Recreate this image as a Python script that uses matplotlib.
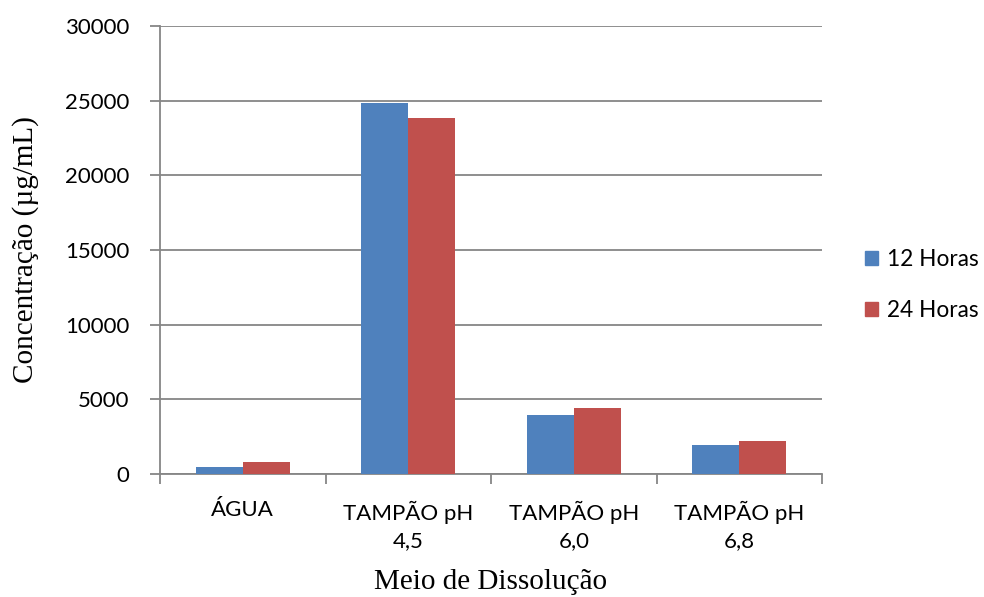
import matplotlib
matplotlib.use("Agg")
import matplotlib.pyplot as plt
import numpy as np
from matplotlib.patches import Patch

categories = ["ÁGUA", "TAMPÃO pH\n4,5", "TAMPÃO pH\n6,0", "TAMPÃO pH\n6,8"]
series_names = ["12 Horas", "24 Horas"]
horas_12 = [450, 24850, 3930, 1940]
horas_24 = [780, 23850, 4420, 2210]
y_ticks = [0, 5000, 10000, 15000, 20000, 25000, 30000]

colors = ["#4F81BD", "#C0504D"]
grid_color = "#868686"
tick_font = "Lato"
label_font = "Liberation Serif"
tick_size = 16

fig = plt.figure(figsize=(9.84, 5.97), dpi=100)
ax = fig.add_axes([160/984, 1 - 474/597, (822-160)/984, (474-26)/597])

x = np.arange(len(categories))
width = 0.284
ax.bar(x - width/2, horas_12, width, color=colors[0], label=series_names[0], zorder=3)
ax.bar(x + width/2, horas_24, width, color=colors[1], label=series_names[1], zorder=3)

ax.set_xlim(-0.5, len(categories) - 0.5)
ax.set_ylim(0, 30000)
ax.set_yticks(y_ticks)
ax.set_yticklabels([str(v) for v in y_ticks], fontfamily=tick_font, fontsize=tick_size)
ax.yaxis.grid(True, color=grid_color, linewidth=1.3, zorder=0)
ax.set_axisbelow(True)

# category labels at centres, tick marks at category boundaries
ax.set_xticks(x)
ax.set_xticklabels(categories, fontfamily=tick_font, fontsize=tick_size, linespacing=1.45)
ax.tick_params(axis="x", which="major", length=0, pad=19)
ax.set_xticks(np.arange(-0.5, len(categories)), minor=True)
ax.tick_params(axis="x", which="minor", length=7, width=1.3, color=grid_color, direction="out")
ax.tick_params(axis="y", length=7, width=1.3, color=grid_color, direction="out", pad=15)

for side in ["top", "right"]:
    ax.spines[side].set_visible(False)
for side in ["left", "bottom"]:
    ax.spines[side].set_color(grid_color)
    ax.spines[side].set_linewidth(1.3)

ax.set_ylabel("Concentração (µg/mL)", fontfamily=label_font, fontsize=21, labelpad=19)
ax.set_xlabel("Meio de Dissolução", fontfamily=label_font, fontsize=21, labelpad=13)

handles = [Patch(facecolor=c, edgecolor=c) for c in colors]
fig.legend(handles, series_names, loc="center left", bbox_to_anchor=(845/984, 1 - 285/597),
           frameon=False, prop={"family": tick_font, "size": 16.3},
           handlelength=0.55, handleheight=0.55, handletextpad=0.4, labelspacing=1.3)

fig.savefig("out.png", dpi=100)
